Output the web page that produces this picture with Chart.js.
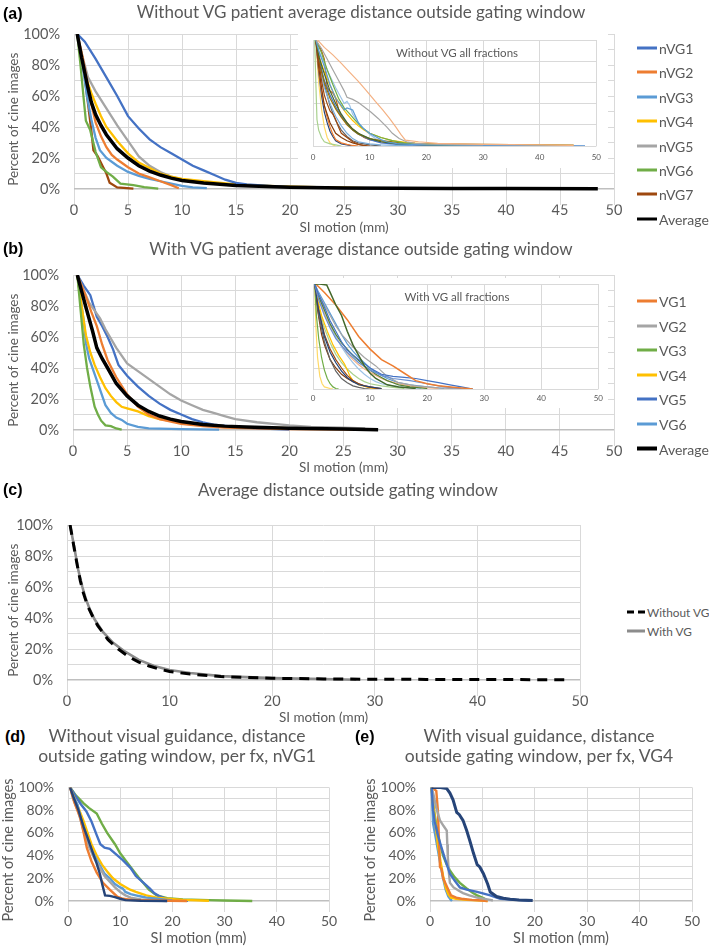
<!DOCTYPE html>
<html><head><meta charset="utf-8">
<script src="https://cdn.jsdelivr.net/npm/chart.js@4.4.0/dist/chart.umd.min.js"></script>
<style>
html,body{margin:0;padding:0;background:#fff;}
body{width:709px;height:947px;position:relative;overflow:hidden;font-family:Lato,'Open Sans',sans-serif;color:#595959;}
canvas{position:absolute;}
.t{position:absolute;white-space:nowrap;transform:translate(-50%,-50%);line-height:1.12;text-align:center;}
.p{position:absolute;font-family:'Liberation Sans',Arial,sans-serif;font-weight:bold;font-size:16px;color:#000;transform:translateY(-50%);}
.lg{position:absolute;font-size:14px;white-space:nowrap;transform:translateY(-50%);display:flex;align-items:center;}
.lg i{display:inline-block;width:20px;margin-right:2px;}
</style></head><body>

<canvas id="cA" width="630" height="236" style="left:0;top:0;width:630px;height:236px"></canvas>
<canvas id="cB" width="630" height="236" style="left:0;top:240px;width:630px;height:236px"></canvas>
<canvas id="cC" width="600" height="236" style="left:0;top:490px;width:600px;height:236px"></canvas>
<canvas id="cD" width="345" height="182" style="left:0;top:765px;width:345px;height:182px"></canvas>
<canvas id="cE" width="347" height="182" style="left:362px;top:765px;width:347px;height:182px"></canvas>
<canvas id="iA" width="310" height="134" style="left:298px;top:34px;width:310px;height:134px"></canvas>
<canvas id="iB" width="310" height="130" style="left:298px;top:278px;width:310px;height:130px"></canvas>

<div class="p" style="left:3px;top:14px">(a)</div>
<div class="t" style="left:361px;top:12px;font-size:17px">Without VG patient average distance outside gating window</div>
<div class="t" style="left:457px;top:53px;font-size:11.5px">Without VG all fractions</div>

<div class="p" style="left:3px;top:249px">(b)</div>
<div class="t" style="left:361px;top:249px;font-size:17px">With VG patient average distance outside gating window</div>
<div class="t" style="left:457px;top:297px;font-size:11.5px">With VG all fractions</div>

<div class="p" style="left:3px;top:490px">(c)</div>
<div class="t" style="left:348px;top:490px;font-size:17px">Average distance outside gating window</div>

<div class="p" style="left:5px;top:737px">(d)</div>
<div class="t" style="left:177px;top:746px;font-size:17.5px">Without visual guidance, distance<br>outside gating window, per fx, nVG1</div>
<div class="p" style="left:355px;top:737px">(e)</div>
<div class="t" style="left:539px;top:746px;font-size:17.5px">With visual guidance, distance<br>outside gating window, per fx, VG4</div>

<div id="legA"></div><div id="legB"></div><div id="legC"></div>

<script>
// ---------------- (a) patient averages without VG ----------------
const nVG1 = [[0.3,100],[1,95],[2,84],[3,72],[4,60],[5,47],[6,39],[7,32],[8,27],[9,23],[10,19],[11,15],[12,12],[13,9],[14,6],[15,4],[16,3],[18,2],[20,1.2],[25,0.6],[30,0.3],[35,0.1]];
const nVG2 = [[0.3,100],[0.8,85],[1.2,70],[1.6,55],[2,43],[2.5,34],[3,27],[3.5,22],[4,19],[5,14],[6,10],[7,7.5],[8,5],[9,2.5],[9.7,0.5]];
const nVG3 = [[0.3,100],[0.8,80],[1.2,60],[1.6,45],[2,33],[2.4,25],[3,20],[4,15],[5,11],[6,8.5],[7,6.5],[8,5],[9,3.5],[10,2],[11,1],[12.3,0.5]];
const nVG4 = [[0.3,100],[0.8,80],[1.2,70],[1.6,62],[2,55],[2.5,47],[3,40],[4,31],[5,23],[6,17],[7,13.5],[8,10],[9,8],[10,6.5],[12,5],[15,3],[18,2],[20,1.5],[25,0.8],[27,0.5]];
const nVG5 = [[0.3,100],[0.8,85],[1.3,72],[2,63],[3,52],[4,41],[5,31],[5.5,26],[6,21],[7,15],[8,11],[9,8],[10,6],[12,4],[15,2.5],[20,1.5],[25,0.8],[27,0.3]];
const nVG6 = [[0.3,100],[0.6,80],[0.9,58],[1.1,44],[1.5,38],[2,24],[2.5,14],[3,11],[3.6,8],[4.3,3.5],[5.5,2.5],[6.5,1.2],[7.8,0.3]];
const nVG7 = [[0.3,100],[0.7,85],[1,72],[1.3,55],[1.6,38],[1.8,25],[2.2,21],[2.7,14],[3,10],[3.3,4],[4,1],[5.5,0.3]];
const nAvg = [[0.3,100],[0.7,85],[1,75],[1.3,65],[1.6,56],[2,48],[2.5,41],[3,35],[4,26],[5,20],[6,15],[7,11.5],[8,9],[9,7],[10,5.5],[12,3.8],[15,2.2],[20,1.1],[25,0.7],[30,0.5],[35,0.4],[40,0.3],[48.5,0.2]];
const nLabels = ['nVG1','nVG2','nVG3','nVG4','nVG5','nVG6','nVG7','Average'];
const nColors = ['#4472C4','#ED7D31','#5B9BD5','#FFC000','#A5A5A5','#70AD47','#9E480E','#000000'];

// ---------------- (b) patient averages with VG ----------------
const VG1 = [[0.4,100],[0.8,93],[1.2,86],[1.7,76],[2.2,67],[2.7,55],[3.2,45],[4,34],[5,23],[6,15],[7,10],[8,7],[10,4],[12,2.5],[14,1.5],[17,1],[20,0.5],[27,0.2]];
const VG2 = [[0.4,100],[1,90],[1.5,82],[2,77],[2.5,72],[3,65],[4,53],[5,43],[6,38],[7,33],[8,28],[9,23],[10,19],[11,16],[12,13],[13,11],[14,9],[15,7],[17,5],[20,3],[22,2],[25,1.5],[27,1]];
const VG3 = [[0.4,100],[0.6,85],[0.8,70],[1,55],[1.3,40],[1.6,28],[2,15],[2.3,10],[2.6,6],[3,3],[3.5,2.5],[4,1],[4.5,0.3]];
const VG4 = [[0.4,100],[0.7,85],[1,70],[1.2,61],[1.6,50],[2,42],[2.5,34],[3,27],[3.5,22],[4,18],[4.5,15],[5,14],[6,12],[7,9],[8,7],[10,5],[12,3.5],[15,2],[20,1.2],[25,0.8],[27,0.5]];
const VG5 = [[0.4,100],[1,93],[1.6,87],[2.2,73],[2.7,67],[3.2,60],[3.7,52],[4.2,42],[5,35],[6,28],[7,22],[8,17],[9,13],[10,10],[11,7],[12,5],[13,3.5],[15,2],[17,1],[20,0.3]];
const VG6 = [[0.4,100],[0.7,85],[1,70],[1.2,56],[1.5,46],[2,36],[2.5,26],[3,16],[3.5,11],[4,8],[4.5,6.5],[5,4],[6,2],[7,1],[10,0.5],[13.5,0.2]];
const vAvg = [[0.4,100],[0.7,92],[1.2,79],[1.8,64],[2.2,53],[2.7,46],[3.2,40],[4,30],[5,22],[6,16],[7,12],[8,9],[9,7],[10,5.5],[12,3.5],[14,2.5],[16,2],[20,1.2],[25,0.6],[28.2,0.1]];
const vLabels = ['VG1','VG2','VG3','VG4','VG5','VG6','Average'];
const vColors = ['#ED7D31','#A5A5A5','#70AD47','#FFC000','#4472C4','#5B9BD5','#000000'];

// ---------------- (c) comparison ----------------
const cWithout = [[0.3,100],[0.7,85],[1,74],[1.3,64],[1.6,56],[2,48],[2.5,41],[3,35],[4,26],[5,20],[6,15],[7,11.5],[8,9],[9,7],[10,5.5],[12,3.8],[15,2.2],[20,1.1],[25,0.7],[30,0.5],[35,0.4],[40,0.3],[48.5,0.2]];
const cWith = [[0.3,100],[0.7,86],[1.1,71],[1.5,60],[1.8,53],[2.2,46],[2.7,39],[3.5,31],[4.5,24],[5.5,19],[7,13],[8.5,9],[10,6.5],[12,4.5],[15,2.5],[20,1.2],[25,0.6],[28.2,0.2]];
const cLabels = ['Without VG','With VG'];
const cColors = ['#000000','#8C8C8C'];

// ---------------- (d) nVG1 per fraction ----------------
const nvg1Fx1 = [[0.4,100],[1,92],[2,80],[3,65],[3.8,55],[4.8,42],[5.5,33],[6.1,24],[6.6,14],[7.1,5],[8,4.5],[9,3.5],[10,2],[11,0.8],[14,0.3],[19,0]];
const nvg1Fx2 = [[0.4,100],[1.2,87],[2.3,74],[3,60],[3.6,47],[4.5,35],[5.5,25],[6.7,16],[8,10],[9.4,4],[10.5,2],[12.3,1],[16,0.5],[22.8,0]];
const nvg1Fx3 = [[0.4,100],[1,90],[2,78],[3,62],[4,48],[5,38],[6,30],[7,22],[8,17],[9,12],[10,8],[11,5],[12,3],[14,1.5],[17,0.5],[19,0]];
const nvg1Fx4 = [[0.4,100],[1,92],[1.8,85],[2.5,72],[3.5,58],[4.5,45],[5.5,36],[6.5,28],[7,24],[8,20],[9,15],[10,12],[10.5,11],[11,8],[12,6],[13,5],[14,4],[15,3],[17,2],[19,1],[20,0.5]];
const nvg1Fx5 = [[0.4,100],[1,93],[2,82],[3,70],[3.6,62],[4.5,50],[5.5,40],[6.5,32],[7.5,26],[8.6,20],[10,15],[11.9,10],[13,8],[15,5],[17,3],[19,2],[22,1],[27,0.3]];
const nvg1Fx6 = [[0.4,100],[1.5,92],[2.5,85],[3.5,79],[4.5,70],[5.5,58],[6.2,50],[7,47],[8,46],[9,42],[10.5,36],[12,29],[13,22],[14,18],[15.7,11],[16.5,7],[17.6,4],[19,1.5],[21,0.8],[23,0.3]];
const nvg1Fx7 = [[0.4,100],[1.5,93],[3,86],[4,82],[5.5,77],[6.5,68],[7.5,60],[9,50],[10,42],[11,36],[12.5,27],[13.5,21],[14.4,16],[15.5,10],[17,5],[19,2.5],[22,1.5],[27,0.8],[30,0.5],[35.3,0]];
const dColors = ['#264478','#ED7D31','#A5A5A5','#5B9BD5','#FFC000','#4472C4','#70AD47'];

// ---------------- (e) VG4 per fraction ----------------
const vg4Fx1 = [[0.3,100],[2,100],[3.2,99],[3.8,95],[4.4,89],[5.1,78],[5.6,76],[6.3,71],[7,62],[7.6,53],[8.3,42],[9,32],[9.5,30],[10.2,24],[11,15],[11.5,8],[12.7,4],[14,2.5],[15.3,1.6],[17,1],[19.6,0.5]];
const vg4Fx2 = [[0.3,100],[0.6,80],[0.9,70],[1.5,58],[2,50],[2.8,38],[3.8,24],[4.7,18],[5.7,12],[7,10],[9,8],[11.5,5],[13.4,2],[16.5,1],[19,0.5]];
const vg4Fx3 = [[0.3,100],[0.6,95],[1.2,82],[1.9,71],[2.6,66],[3.2,62],[3.3,50],[3.4,39],[3.6,25],[3.8,16],[4.5,12],[5.5,9],[6.3,7],[7.5,5],[9,3],[11.5,1],[12,0.5]];
const vg4Fx4 = [[0.3,100],[1.2,97],[1.5,80],[1.7,55],[1.9,30],[2.2,28],[2.5,20],[3,15],[3.5,10],[4,5],[5,3],[6,2],[8,1],[10,0.5],[11,0]];
const vg4Fx5 = [[0.3,100],[0.6,85],[1,70],[1.5,50],[2,35],[2.5,22],[3,12],[3.5,6],[4,3],[5,2],[7,1],[10,0.5],[11,0]];
const vg4Fx6 = [[0.3,100],[0.7,82],[1.2,67],[1.8,52],[2.5,40],[3.2,32],[3.8,27],[4.7,21],[5.7,16],[7,11],[8.2,7],[9,5],[10.2,2.6],[11,0.5]];
const vg4Fx7 = [[0.3,100],[0.6,68],[1,58],[1.5,45],[2,32],[2.5,20],[3,10],[3.5,4],[4,1],[4.2,0]];
const eColors = ['#264478','#4472C4','#A5A5A5','#ED7D31','#FFC000','#70AD47','#5B9BD5'];

// ---------------- inset (a): all fractions without VG ----------------
const nAll01 = [[0.8,100],[2,93],[3.5,86],[5,78],[6.4,70],[8,61],[9.3,53],[11,42],[12.3,34],[13.5,26],[14.6,18],[15.5,11],[16.3,5.5],[18.6,4],[22,2.5],[30,1.5],[40,1],[46,0.5]];
const nAll02 = [[0.5,100],[1.5,92],[2.5,82],[3.5,72],[4.5,62],[5.5,52],[6,46],[7,44],[8,41],[9,37],[10.2,32],[11.5,26],[13,18],[14,12],[15.2,7],[16.5,4],[18,2.5],[22,1.5],[30,1]];
const nAll03 = [[0.5,100],[1,90],[2,75],[3,58],[4,45],[5,38],[5.5,34],[6,36],[7,34],[7.5,28],[8,22],[9,16],[10,12],[11,9],[12,6],[13,4],[15,2],[20,1],[30,0.5],[48,0]];
const nAll04 = [[0.5,100],[1.5,88],[2.5,72],[3.5,58],[4.5,45],[5.5,36],[6.5,30],[7.5,24],[8.5,18],[10,12],[12,8],[14,5],[16,3],[20,1.5],[25,0.8],[30,0.3]];
const nAll05 = [[0.5,100],[1,85],[2,68],[3,52],[4,40],[5,30],[6,22],[7,16],[8,12],[10,7],[12,4],[15,2],[20,1],[26,0.3]];
const nAll06 = [[0.5,100],[1,80],[1.5,62],[2,48],[2.5,40],[3,33],[3.5,30],[4,25],[4.5,18],[5,12],[6,8],[7,4],[8,1.5],[9,0.5],[10,0]];
const nAll07 = [[0.5,100],[1,75],[1.5,55],[2,38],[3,22],[4,12],[5,8],[6,5],[7,3],[8,1.5],[9,0.5]];
const nAll08 = [[0.5,100],[1,85],[2,70],[3,57],[4,46],[5,37],[6,30],[7,24],[8,19],[9,15],[10,12],[12,8],[14,5],[17,3],[20,2],[25,1.5],[30,1],[40,0.5],[46,0.3]];
const nAll09 = [[0.5,100],[1,80],[2,60],[3,45],[4,35],[5,27],[6,20],[7,15],[8,11],[10,7],[12,5],[15,3.5],[18,2.5],[22,2],[30,1.5],[40,1],[46,0.8]];
const nAll10 = [[0.5,100],[1,82],[2,62],[3,48],[4,37],[5,28],[6,21],[7,15],[8,11],[10,6],[12,3],[15,1.5],[20,0.8],[30,0.4],[40,0.2],[48,0]];
const nAll11 = [[0.5,100],[1,78],[2,55],[3,40],[4,28],[5,19],[6,12],[7,7],[8,4],[10,2],[12,1],[15,0.5],[20,0]];
const nAll12 = [[0.5,100],[1,72],[1.5,52],[2,38],[2.5,27],[3,18],[3.5,11],[4,6],[5,3],[6,1.5],[7,0.5],[8,0]];
const nAll13 = [[0.3,100],[0.5,60],[0.7,25],[1,15],[1.5,8],[2,4],[3,2],[4,1],[5,0]];
const nAll14 = [[0.5,100],[1,70],[1.5,48],[2,32],[2.5,22],[3,14],[3.5,9],[4,5],[5,2],[6,1],[7,0]];
const nAll15 = [[0.5,100],[1,88],[1.5,72],[2,58],[3,38],[4,24],[5,15],[6,9],[7,5],[8,3],[10,1],[12,0]];
const nAll16 = [[0.5,100],[1,60],[1.5,35],[2,18],[2.5,8],[3,3],[3.5,1],[4,0]];
const nAll17 = [[0.5,100],[1,90],[2,78],[3,66],[4,55],[5,45],[5.5,40],[6,42],[6.5,38],[7,30],[8,22],[9,16],[10,11],[11,7],[12,5],[14,3],[16,2],[20,1],[25,0.5]];
const nAll18 = [[0.5,100],[1.5,90],[2,82],[2.5,55],[3,52],[3.5,50],[4,45],[4.5,35],[5,28],[6,22],[7,16],[8,12],[9,8],[10,6],[12,4],[14,2.5],[17,1.5],[20,1],[25,0.5]];
const nAllColors = ['#F4B183','#A5A5A5','#5B9BD5','#70AD47','#43682B','#9E480E','#843C0C','#FFC000','#997300','#4472C4','#7CAFDD','#ED7D31','#A9D18E','#264478','#636363','#FFD966','#9DC3E6','#C55A11'];

// ---------------- inset (b): all fractions with VG ----------------
const vAll01 = [[0.3,100],[1.2,100],[2.4,99],[3,92],[4,80],[5,70],[6,55],[7,42],[8,32],[9,22],[10,15],[11,10],[12,7],[13,4],[15,2],[18,0.5]];
const vAll02 = [[0.5,100],[2,92],[4,80],[6,66],[8,50],[10,38],[12,28],[14,22],[16,15],[18,8],[20,5],[22,3],[25,1.5],[28,0]];
const vAll03 = [[0.3,100],[1,90],[2,78],[3,65],[4,55],[5,45],[6,37],[8,28],[10,20],[12,14],[14,12],[16,11],[18,10],[20,8],[22,6],[24,4],[26,2],[28,0]];
const vAll04 = [[0.3,100],[1,85],[2,70],[3,58],[4,48],[6,35],[8,25],[10,18],[12,13],[14,10],[17,8],[20,5],[23,2],[26,0.5],[28,0]];
const vAll05 = [[0.3,100],[1,90],[2,80],[3,70],[4,60],[5,52],[7,40],[9,30],[11,22],[13,12],[15,6],[18,3],[22,1],[26,0]];
const vAll06 = [[0.3,100],[1,88],[2,75],[3,62],[4,52],[5,44],[6,38],[7,32],[8,27],[9,22],[10,18],[11,14],[12,11],[13,8],[14,6],[15,4],[17,2],[20,0.5]];
const vAll07 = [[0.3,100],[0.8,80],[1.5,62],[2,50],[3,35],[4,25],[5,17],[6,11],[7,7],[8,4],[10,2],[12,0.5]];
const vAll08 = [[0.3,100],[1,75],[2,52],[3,38],[4,28],[5,20],[6,13],[7,8],[8,5],[9,3],[10,1.5],[12,0]];
const vAll09 = [[0.3,100],[0.8,85],[1.5,70],[2.5,55],[3.5,42],[4.5,32],[5.5,24],[6,18],[6.5,12],[7,8],[8,4],[10,1],[12,0]];
const vAll10 = [[0.3,100],[1,78],[2,58],[3,44],[4,33],[5,25],[6,19],[7,14],[8,10],[9,7],[10,5],[12,3],[14,1.5],[16,0.5]];
const vAll11 = [[0.3,100],[0.6,70],[1,48],[1.5,30],[2,18],[2.5,10],[3,5],[3.5,2],[4,0.5],[4.5,0]];
const vAll12 = [[0.3,100],[1,90],[2,76],[3,62],[4,50],[5,40],[6,32],[7,25],[8,19],[9,14],[10,10],[11,7],[12,5],[14,3],[16,1.5],[19,0.5]];
const vAll13 = [[0.3,100],[1,70],[2,45],[3,28],[4,17],[5,10],[6,6],[7,3],[8,1.5],[9,0.5],[10,0]];
const vAll14 = [[0.3,100],[0.5,60],[0.8,30],[1.2,12],[1.6,5],[2,2],[3,0.5],[3.5,0]];
const vAll15 = [[0.3,100],[1,86],[2,72],[3,60],[4,50],[5,41],[6,34],[7,28],[8,23],[9,19],[10,16],[11,13],[12,10],[13,8],[15,5],[17,3],[19,1.5],[22,0.5]];
const vAll16 = [[0.3,100],[0.8,75],[1.5,52],[2,42],[2.5,35],[3,28],[4,20],[5,14],[6,10],[7,7],[8,5],[9,3],[10,2],[11,1],[12,0.3]];
const vAll17 = [[0.3,100],[1,92],[2,82],[3,72],[4,62],[5,52],[6,43],[7,36],[8,30],[9,25],[10,20],[11,16],[12,13],[13,10],[14,8],[15,6],[17,4],[20,2],[23,0.5]];
const vAllColors = ['#43682B','#ED7D31','#4472C4','#698ED0','#A5A5A5','#548235','#264478','#9E480E','#FFC000','#A9D18E','#70AD47','#9DC3E6','#636363','#FFD966','#F4B183','#843C0C','#5B9BD5'];

const xTitle = 'SI motion (mm)';
const yTitle = 'Percent of cine images';

// ---------------- helpers ----------------
const F = 'Lato, "Open Sans", sans-serif';
const TXT = '#595959', GRID = '#d9d9d9', AXIS = '#bfbfbf';
function toXY(a){ return a.map(p => ({x:p[0], y:p[1]})); }
function line(label, pts, color, w, extra){
  return Object.assign({label, data: toXY(pts), borderColor: color, backgroundColor: color,
    borderWidth: w, pointRadius: 0, pointHoverRadius: 0, tension: 0, fill: false}, extra || {});
}
const whiteBg = { id:'whiteBg', beforeDraw(c){ const ctx=c.ctx; ctx.save(); ctx.fillStyle='#fff'; ctx.fillRect(0,0,c.width,c.height); ctx.restore(); } };

function mk(id, datasets, o){
  const inset = !!o.inset;
  return new Chart(document.getElementById(id), {
    type: 'line',
    data: { datasets },
    options: {
      responsive:false, animation:false, devicePixelRatio:1, events:[],
      layout:{padding:{top:o.pt, right:o.pr, left:0, bottom:0}},
      plugins:{legend:{display:false}, tooltip:{enabled:false}},
      scales:{
        x:{type:'linear', min:0, max:50,
           ticks:{stepSize:o.xs, padding:o.xp, color:TXT, font:{family:F, size:o.tf}, maxRotation:0, autoSkip:false},
           grid:{color:GRID, drawTicks:false, lineWidth:1}, border:{display:false},
           title:{display:!!o.xt, text:o.xt || '', color:TXT, font:{family:F, size:o.af}, padding:{top:0,bottom:0}},
           afterFit(s){ s.height = o.xh; }},
        y:{type:'linear', min: inset ? 0 : -10, max:100,
           ticks:{display:!inset, stepSize:o.ys, padding:o.yp, color:TXT, font:{family:F, size:o.tf}, autoSkip:false,
                  callback:v => { const r = Math.round(v); return (r >= 0 && r % 20 === 0) ? r + '%' : ''; }},
           grid:{drawTicks:false,
                 color:c => { const v = Math.round(c.tick.value); return v < 0 ? 'rgba(0,0,0,0)' : ((v === 0 && !inset) ? AXIS : GRID); },
                 lineWidth:c => (Math.round(c.tick.value) === 0 && !inset) ? 1.6 : 1},
           border:{display:false},
           title:{display:!!o.yt, text:o.yt || '', color:TXT, font:{family:F, size:o.af}, padding:{top:o.ytp || 0, bottom:0}},
           afterFit(s){ s.width = o.yw; }}
      }
    },
    plugins: inset ? [whiteBg] : []
  });
}

// ---------------- (a) ----------------
const aSeries = [nVG1,nVG2,nVG3,nVG4,nVG5,nVG6,nVG7,nAvg];
mk('cA', aSeries.map((s,i) => line(nLabels[i], s, nColors[i], i === 7 ? 3.5 : 2.3, {order: i === 7 ? 0 : i + 1})),
  {pt:34, pr:16, yw:74, xh:31.5, xs:5, ys:10, xp:-3, yp:14, tf:14.5, af:13.5, xt:xTitle, yt:yTitle, ytp:6});
const aAll = [nAll01,nAll02,nAll03,nAll04,nAll05,nAll06,nAll07,nAll08,nAll09,nAll10,nAll11,nAll12,nAll13,nAll14,nAll15,nAll16,nAll17,nAll18];
mk('iA', aAll.map((s,i) => line('fx' + (i+1), s, nAllColors[i], 1.2)),
  {inset:true, pt:6, pr:8, yw:15, xh:22, xs:10, ys:20, xp:7, yp:0, tf:8, af:8});

// ---------------- (b) ----------------
const bSeries = [VG1,VG2,VG3,VG4,VG5,VG6,vAvg];
mk('cB', bSeries.map((s,i) => line(vLabels[i], s, vColors[i], i === 6 ? 3.5 : 2.3, {order: i === 6 ? 0 : i + 1})),
  {pt:35, pr:16, yw:73, xh:30.5, xs:5, ys:10, xp:-3, yp:14, tf:14.5, af:13.5, xt:xTitle, yt:yTitle, ytp:6});
const bAll = [vAll01,vAll02,vAll03,vAll04,vAll05,vAll06,vAll07,vAll08,vAll09,vAll10,vAll11,vAll12,vAll13,vAll14,vAll15,vAll16,vAll17];
mk('iB', bAll.map((s,i) => line('fx' + (i+1), s, vAllColors[i], (i < 2) ? 1.5 : 1.2)),
  {inset:true, pt:6, pr:8, yw:15, xh:19, xs:10, ys:20, xp:5, yp:0, tf:8, af:8});

// ---------------- (c) ----------------
mk('cC', [
  line(cLabels[0], cWithout, cColors[0], 3, {borderDash:[10,7], order:0}),
  line(cLabels[1], cWith, cColors[1], 2.6, {order:1})
], {pt:35, pr:20, yw:67, xh:30.5, xs:10, ys:10, xp:-3, yp:14, tf:14.5, af:13.5, xt:xTitle, yt:yTitle, ytp:6});

// ---------------- (d) ----------------
const dSeries = [nvg1Fx1,nvg1Fx2,nvg1Fx3,nvg1Fx4,nvg1Fx5,nvg1Fx6,nvg1Fx7];
mk('cD', dSeries.map((s,i) => line('fx' + (i+1), s, dColors[i], 2.4)),
  {pt:22, pr:16, yw:68, xh:34.6, xs:10, ys:10, xp:1, yp:14, tf:14, af:14.5, xt:xTitle, yt:yTitle, ytp:0});

// ---------------- (e) ----------------
const eSeries = [vg4Fx1,vg4Fx2,vg4Fx3,vg4Fx4,vg4Fx5,vg4Fx6,vg4Fx7];
mk('cE', eSeries.map((s,i) => line('fx' + (i+1), s, eColors[i], i === 0 ? 3 : 2.4)),
  {pt:22, pr:17, yw:68, xh:34.6, xs:10, ys:10, xp:1, yp:14, tf:14, af:14.5, xt:xTitle, yt:yTitle, ytp:0});

// ---------------- HTML legends ----------------
function legend(el, labels, colors, x, y0, dy, widths, lineW, fontSize, dashIdx){
  const box = document.getElementById(el);
  labels.forEach((lab,i) => {
    const d = document.createElement('div');
    d.className = 'lg';
    d.style.left = x + 'px';
    d.style.top = (y0 + i*dy) + 'px';
    d.style.fontSize = fontSize + 'px';
    const ln = document.createElement('i');
    ln.style.width = lineW + 'px';
    ln.style.height = widths[i] + 'px';
    if (dashIdx === i) {
      ln.style.background = 'linear-gradient(to right,' + colors[i] + ' 0 7px, transparent 7px 11px,' + colors[i] + ' 11px 100%)';
    } else {
      ln.style.background = colors[i];
    }
    d.appendChild(ln);
    d.appendChild(document.createTextNode(lab));
    box.appendChild(d);
  });
}
legend('legA', nLabels, nColors, 637, 48, 24.4, [3,3,3,3,3,3,3,3.5], 20, 14, -1);
legend('legB', vLabels, vColors, 637, 301, 24.6, [3,3,3,3,3,3,3.5], 20, 14, -1);
legend('legC', cLabels, cColors, 627, 612, 19, [3,3], 18, 11.8, 0);
</script>
</body></html>
